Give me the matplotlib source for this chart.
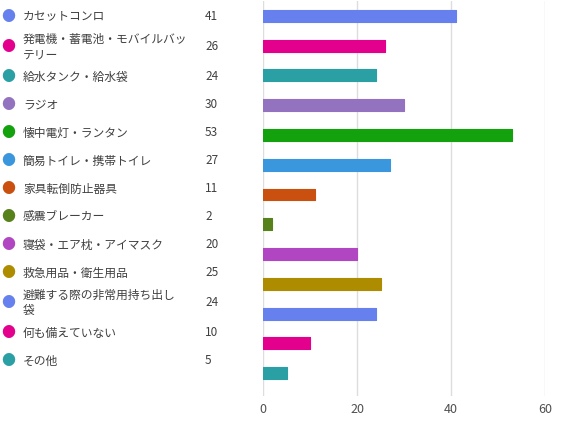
import matplotlib.pyplot as plt

plt.rcParams['font.family'] = ['Noto Sans CJK JP', 'DejaVu Sans']

# data
items = [
    "カセットコンロ",
    "発電機・蓄電池・モバイルバッ\nテリー",
    "給水タンク・給水袋",
    "ラジオ",
    "懐中電灯・ランタン",
    "簡易トイレ・携帯トイレ",
    "家具転倒防止器具",
    "感震ブレーカー",
    "寝袋・エア枕・アイマスク",
    "救急用品・衛生用品",
    "避難する際の非常用持ち出し\n袋",
    "何も備えていない",
    "その他",
]
counts = [41, 26, 24, 30, 53, 27, 11, 2, 20, 25, 24, 10, 5]
colors = ["#6680ee", "#e3008c", "#2aa0a4", "#9373c0", "#13a10e", "#3a96dd",
          "#ca5010", "#57811b", "#b146c2", "#ae8c00", "#6680ee", "#e3008c",
          "#2aa0a4"]
x_ticks = [0, 20, 40, 60]

W, H = 563, 427
fig = plt.figure(figsize=(W / 100, H / 100), dpi=100)

# --- bar chart on the right ---
ax = fig.add_axes([263 / W, 1 - 397 / H, 282 / W, 395 / H])
pos = list(range(len(counts)))
ax.barh(pos, counts, height=0.4, color=colors, edgecolor=colors,
        linewidth=0.8, joinstyle="round", zorder=3)
ax.set_xlim(0, 60)
ax.set_ylim(12.77, -0.5)
ax.set_xticks(x_ticks)
ax.set_yticks([])
for s in ax.spines.values():
    s.set_visible(False)
ax.grid(axis="x", color="#dddddd", linewidth=1, zorder=0)
ax.tick_params(axis="x", length=0, pad=4, labelsize=9, labelcolor="#505050")

# --- legend-like list on the left ---
y = 3
for label, n, c in zip(items, counts, colors):
    h = 32 if "\n" in label else 28
    yc = y + h / 2
    fig.text(8 / W, 1 - yc / H, "●", color=c, fontsize=10,
             ha="center", va="center")
    fig.text(23 / W, 1 - yc / H, label, color="#404040", fontsize=8.5,
             ha="left", va="center", linespacing=1.3)
    fig.text(205 / W, 1 - yc / H, str(n), color="#404040", fontsize=8.5,
             ha="left", va="center")
    y += h

fig.savefig("out.png", dpi=100)
